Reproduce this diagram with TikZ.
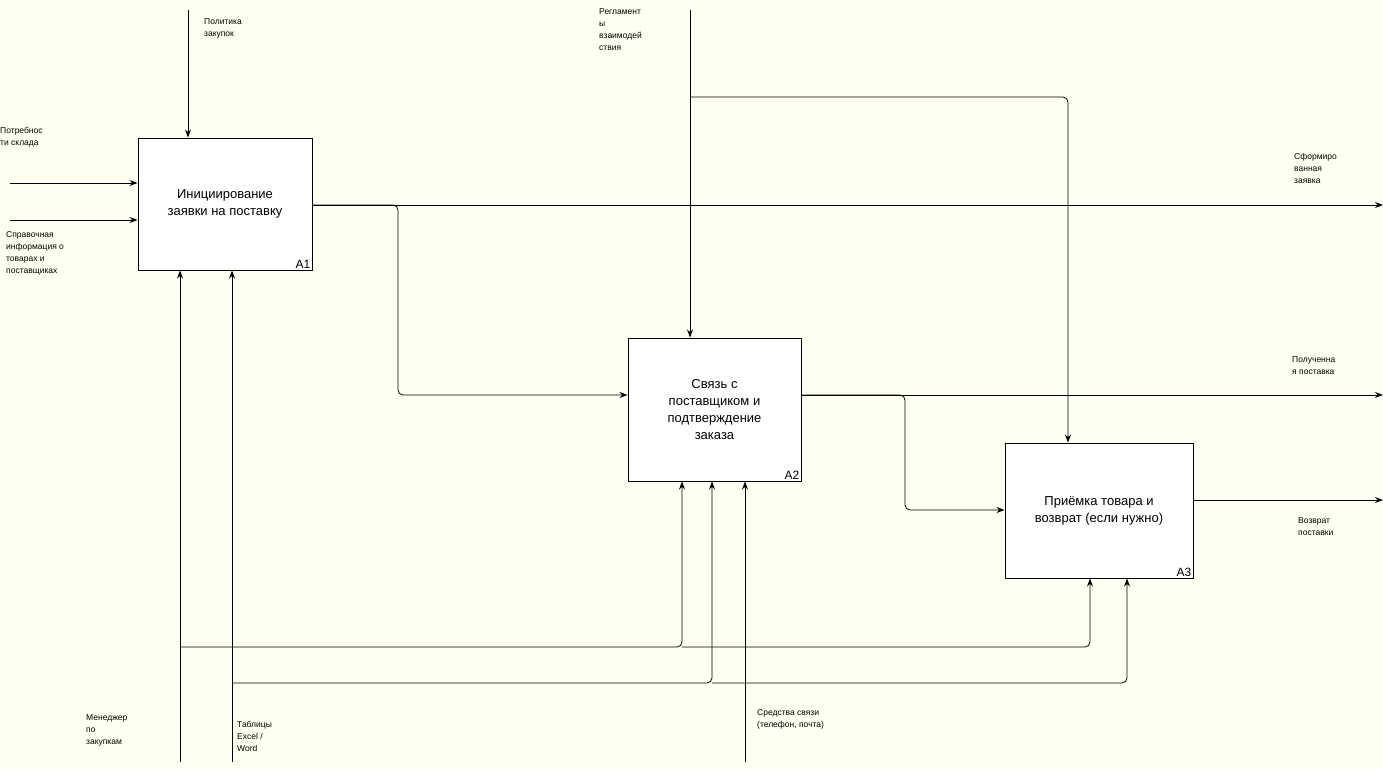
\documentclass[tikz,border=0pt]{standalone}
\usepackage{fontspec}
\setmainfont{Liberation Sans}
\usetikzlibrary{arrows.meta}
\definecolor{bg}{HTML}{FFFFF2}
\begin{document}
\begin{tikzpicture}[x=1pt,y=-1pt,
  box/.style={draw,line width=1pt,fill=white,align=center,font=\fontsize{13}{17}\selectfont,inner sep=0},
  ar/.style={-{Stealth[length=8pt,width=6pt]},line width=0.8pt,rounded corners=5pt},
  lab/.style={font=\fontsize{8.5}{12}\selectfont,align=left,anchor=north west,inner sep=0},
  boxid/.style={font=\fontsize{12}{12}\selectfont,anchor=south east,inner sep=2pt}]
\fill[bg] (0,0) rectangle (1383,769);
\useasboundingbox (0,0) rectangle (1383,769);
% boxes
\node[box,minimum width=174,minimum height=132] (A1) at (225,204) {Инициирование\\заявки на поставку};
\node[boxid] (A1id) at (A1.south east) {A1};
\node[box,minimum width=173,minimum height=143] (A2) at (714.5,409.5) {Связь с\\поставщиком и\\подтверждение\\заказа};
\node[boxid] (A2id) at (A2.south east) {A2};
\node[box,minimum width=188,minimum height=135] (A3) at (1099,510.5) {Приёмка товара и\\возврат (если нужно)};
\node[boxid] (A3id) at (A3.south east) {A3};
% free ends
\coordinate (i1) at (10,183); \coordinate (i2) at (10,220);
\coordinate (c1) at (188,10); \coordinate (c2) at (690,10);
\coordinate (o1) at (1383,205); \coordinate (o2) at (1383,395); \coordinate (o3) at (1383,500);
\coordinate (m1) at (180,762); \coordinate (m2) at (232,762); \coordinate (m3) at (745,762);
% inputs
\draw[ar] (i1) -- (A1.west |- i1);
\draw[ar] (i2) -- (A1.west |- i2);
\draw[ar] (c1) -- (A1.north -| c1);
% A1 output
\draw[ar] (A1.east |- o1) -- (o1);
\draw[ar] (A1.east |- o1) -- (398,205) -- (398,395) -- (A2.west |- 0,395);
% control 2
\draw[ar] (c2) -- (A2.north -| c2);
\draw[ar] (690,97) -- (1068,97) -- (A3.north -| 1068,0);
% A2 output
\draw[ar] (A2.east |- o2) -- (o2);
\draw[ar] (A2.east |- o2) -- (905,395) -- (905,510) -- (A3.west |- 0,510);
% A3 output
\draw[ar] (A3.east |- o3) -- (o3);
% mechanisms
\draw[ar] (m1) -- (A1.south -| m1);
\draw[ar] (m2) -- (A1.south -| m2);
\draw[ar] (180,647) -- (682,647) -- (A2.south -| 682,0);
\draw[ar] (682,647) -- (1090,647) -- (A3.south -| 1090,0);
\draw[ar] (232,683) -- (712,683) -- (A2.south -| 712,0);
\draw[ar] (712,683) -- (1127,683) -- (A3.south -| 1127,0);
\draw[ar] (m3) -- (A2.south -| m3);
% labels
\node[lab] (l1) at (0,127) {Потребнос\\ти склада};
\node[lab] (l2) at (6,231) {Справочная\\информация о\\товарах и\\поставщиках};
\node[lab] (l3) at (204,18) {Политика\\закупок};
\node[lab] (l4) at (599,8) {Регламент\\ы\\взаимодей\\ствия};
\node[lab] (l5) at (1294,153) {Сформиро\\ванная\\заявка};
\node[lab] (l6) at (1292,356) {Полученна\\я поставка};
\node[lab] (l7) at (1298,517) {Возврат\\поставки};
\node[lab] (l8) at (86,714) {Менеджер\\по\\закупкам};
\node[lab] (l9) at (237,721) {Таблицы\\Excel /\\Word};
\node[lab] (l10) at (757,709) {Средства связи\\(телефон, почта)};
\end{tikzpicture}
\end{document}
